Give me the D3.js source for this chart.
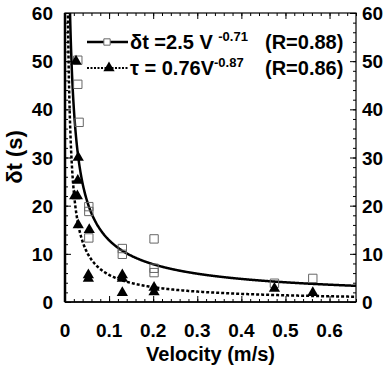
<!DOCTYPE html>
<html>
<head>
<meta charset="utf-8">
<script src="https://cdn.jsdelivr.net/npm/d3@7"></script>
<style>
  body { margin: 0; background: #fff; }
  text { font-family: "Liberation Sans", Arial, sans-serif; font-weight: bold; }
</style>
</head>
<body>
<div id="chart"></div>
<script>
// delta t points (open squares)
var velDt = [0.029, 0.029, 0.032, 0.054, 0.054, 0.054, 0.13, 0.13, 0.202, 0.202, 0.202, 0.475, 0.562];
var dtVals = [50.2, 45.2, 37.3, 19.8, 18.8, 13.3, 11.1, 9.9, 13.1, 7.0, 6.1, 3.9, 4.9];
// tau points (filled triangles)
var velTau = [0.025, 0.03, 0.029, 0.022, 0.028, 0.03, 0.055, 0.053, 0.053, 0.13, 0.13, 0.13, 0.202, 0.202, 0.475, 0.562];
var tauVals = [50, 30, 25.2, 22, 22, 16, 15, 5.6, 4.9, 5.6, 4.9, 1.9, 3, 2.1, 2.8, 1.9];
// fits
var fitDt = {a: 2.5, b: -0.71};
var fitTau = {a: 0.76, b: -0.87};
var xTicks = [0, 0.1, 0.2, 0.3, 0.4, 0.5, 0.6];
var yTicks = [0, 10, 20, 30, 40, 50, 60];

var margin = {top: 13, right: 33, bottom: 71, left: 65},
    W = 389, H = 373,
    width = W - margin.left - margin.right,
    height = H - margin.top - margin.bottom;

var svg = d3.select("#chart").append("svg")
    .attr("width", W).attr("height", H);
var g = svg.append("g")
    .attr("transform", "translate(" + margin.left + "," + margin.top + ")");

var x = d3.scaleLinear().domain([0, 0.66]).range([0, width]);
var y = d3.scaleLinear().domain([0, 60]).range([height, 0]);

g.append("clipPath").attr("id", "clip")
  .append("rect").attr("width", width).attr("height", height);

// minor ticks
var xMinor = d3.range(0, 0.661, 0.02);
var yMinor = d3.range(0, 60.1, 2);

function tickAxis(axis, sel) {
  sel.call(axis);
  sel.select(".domain").remove();
  sel.selectAll("text").remove();
  sel.selectAll("line").attr("stroke", "#000").attr("stroke-width", 1);
}
g.append("g").attr("transform", "translate(0," + height + ")")
  .call(function(s){ tickAxis(d3.axisBottom(x).tickValues(xMinor).tickSizeInner(-3).tickSizeOuter(0), s); });
g.append("g").attr("transform", "translate(0," + height + ")")
  .call(function(s){ tickAxis(d3.axisBottom(x).tickValues(xTicks).tickSizeInner(-6).tickSizeOuter(0), s); });
g.append("g")
  .call(function(s){ tickAxis(d3.axisTop(x).tickValues(xMinor).tickSizeInner(-3).tickSizeOuter(0), s); });
g.append("g")
  .call(function(s){ tickAxis(d3.axisTop(x).tickValues(xTicks).tickSizeInner(-6).tickSizeOuter(0), s); });
g.append("g")
  .call(function(s){ tickAxis(d3.axisLeft(y).tickValues(yMinor).tickSizeInner(-3).tickSizeOuter(0), s); });
g.append("g")
  .call(function(s){ tickAxis(d3.axisLeft(y).tickValues(yTicks).tickSizeInner(-6).tickSizeOuter(0), s); });
g.append("g").attr("transform", "translate(" + width + ",0)")
  .call(function(s){ tickAxis(d3.axisRight(y).tickValues(yMinor).tickSizeInner(-3).tickSizeOuter(0), s); });
g.append("g").attr("transform", "translate(" + width + ",0)")
  .call(function(s){ tickAxis(d3.axisRight(y).tickValues(yTicks).tickSizeInner(-6).tickSizeOuter(0), s); });

// frame
g.append("rect").attr("width", width).attr("height", height)
  .attr("fill", "none").attr("stroke", "#000").attr("stroke-width", 1.2);
g.append("line").attr("x1", 0).attr("x2", 0).attr("y1", 0).attr("y2", height)
  .attr("stroke", "#000").attr("stroke-width", 2.5);
g.append("line").attr("x1", 0).attr("x2", width).attr("y1", height).attr("y2", height)
  .attr("stroke", "#000").attr("stroke-width", 1.5);

// tick labels
g.selectAll(".xl").data(xTicks).enter().append("text")
  .attr("x", function(d){ return x(d); }).attr("y", height + 35)
  .attr("text-anchor", "middle").style("font-size", "19px")
  .text(function(d){ return d === 0 ? "0" : d3.format(".1f")(d); });
g.selectAll(".yl").data(yTicks).enter().append("text")
  .attr("x", -12).attr("y", function(d){ return y(d) + 7; })
  .attr("text-anchor", "end").style("font-size", "19px")
  .text(function(d){ return d; });
g.selectAll(".yr").data(yTicks).enter().append("text")
  .attr("x", width + 6).attr("y", function(d){ return y(d) + 7; })
  .attr("text-anchor", "start").style("font-size", "19px")
  .text(function(d){ return d; });

// axis titles
svg.append("text").attr("x", margin.left + x(0.33)).attr("y", 361)
  .attr("text-anchor", "middle").style("font-size", "20px").text("Velocity (m/s)");
svg.append("text").attr("transform", "translate(22,157) rotate(-90)")
  .attr("text-anchor", "middle").style("font-size", "22px").text("δt (s)");

// fit curves
var vGrid = d3.range(0.004, 0.661, 0.001);
var plot = g.append("g").attr("clip-path", "url(#clip)");
function curve(f) {
  return d3.line()
    .x(function(v){ return x(v); })
    .y(function(v){ return y(f.a * Math.pow(v, f.b)); })(vGrid);
}
plot.append("path").attr("d", curve(fitDt))
  .attr("fill", "none").attr("stroke", "#000").attr("stroke-width", 2.5);
plot.append("path").attr("d", curve(fitTau))
  .attr("fill", "none").attr("stroke", "#000").attr("stroke-width", 2.5)
  .attr("stroke-dasharray", "3,2");

// markers
var sq = d3.symbol().type(d3.symbolSquare).size(70);
var tri = d3.symbol().type(d3.symbolTriangle).size(55);
plot.selectAll(".sq").data(d3.zip(velDt, dtVals)).enter().append("path")
  .attr("d", sq)
  .attr("transform", function(d){ return "translate(" + x(d[0]) + "," + y(d[1]) + ")"; })
  .attr("fill", "none").attr("stroke", "#666").attr("stroke-width", 1);
plot.selectAll(".tri").data(d3.zip(velTau, tauVals)).enter().append("path")
  .attr("d", tri)
  .attr("transform", function(d){ return "translate(" + x(d[0]) + "," + y(d[1]) + ")"; })
  .attr("fill", "#000");

// legend
var leg = svg.append("g");
leg.append("line").attr("x1", 87).attr("x2", 128).attr("y1", 42).attr("y2", 42)
  .attr("stroke", "#000").attr("stroke-width", 2.5);
leg.append("path").attr("d", d3.symbol().type(d3.symbolSquare).size(40))
  .attr("transform", "translate(107,42)").attr("fill", "#fff").attr("stroke", "#666");
leg.append("line").attr("x1", 87).attr("x2", 128).attr("y1", 68).attr("y2", 68)
  .attr("stroke", "#000").attr("stroke-width", 2).attr("stroke-dasharray", "2,1.5");
leg.append("path").attr("d", tri).attr("transform", "translate(109,68)").attr("fill", "#000");

var t1 = leg.append("text").attr("x", 130).attr("y", 49).style("font-size", "20px");
t1.append("tspan").text("δt =2.5 V ");
t1.append("tspan").attr("dy", -8).style("font-size", "13px").text("-0.71");
leg.append("text").attr("x", 265).attr("y", 49).style("font-size", "20px").text("(R=0.88)");
var t2 = leg.append("text").attr("x", 130).attr("y", 75).style("font-size", "20px");
t2.append("tspan").text("τ = 0.76V");
t2.append("tspan").attr("dy", -8).style("font-size", "13px").text("-0.87");
leg.append("text").attr("x", 265).attr("y", 75).style("font-size", "20px").text("(R=0.86)");
</script>
</body>
</html>
